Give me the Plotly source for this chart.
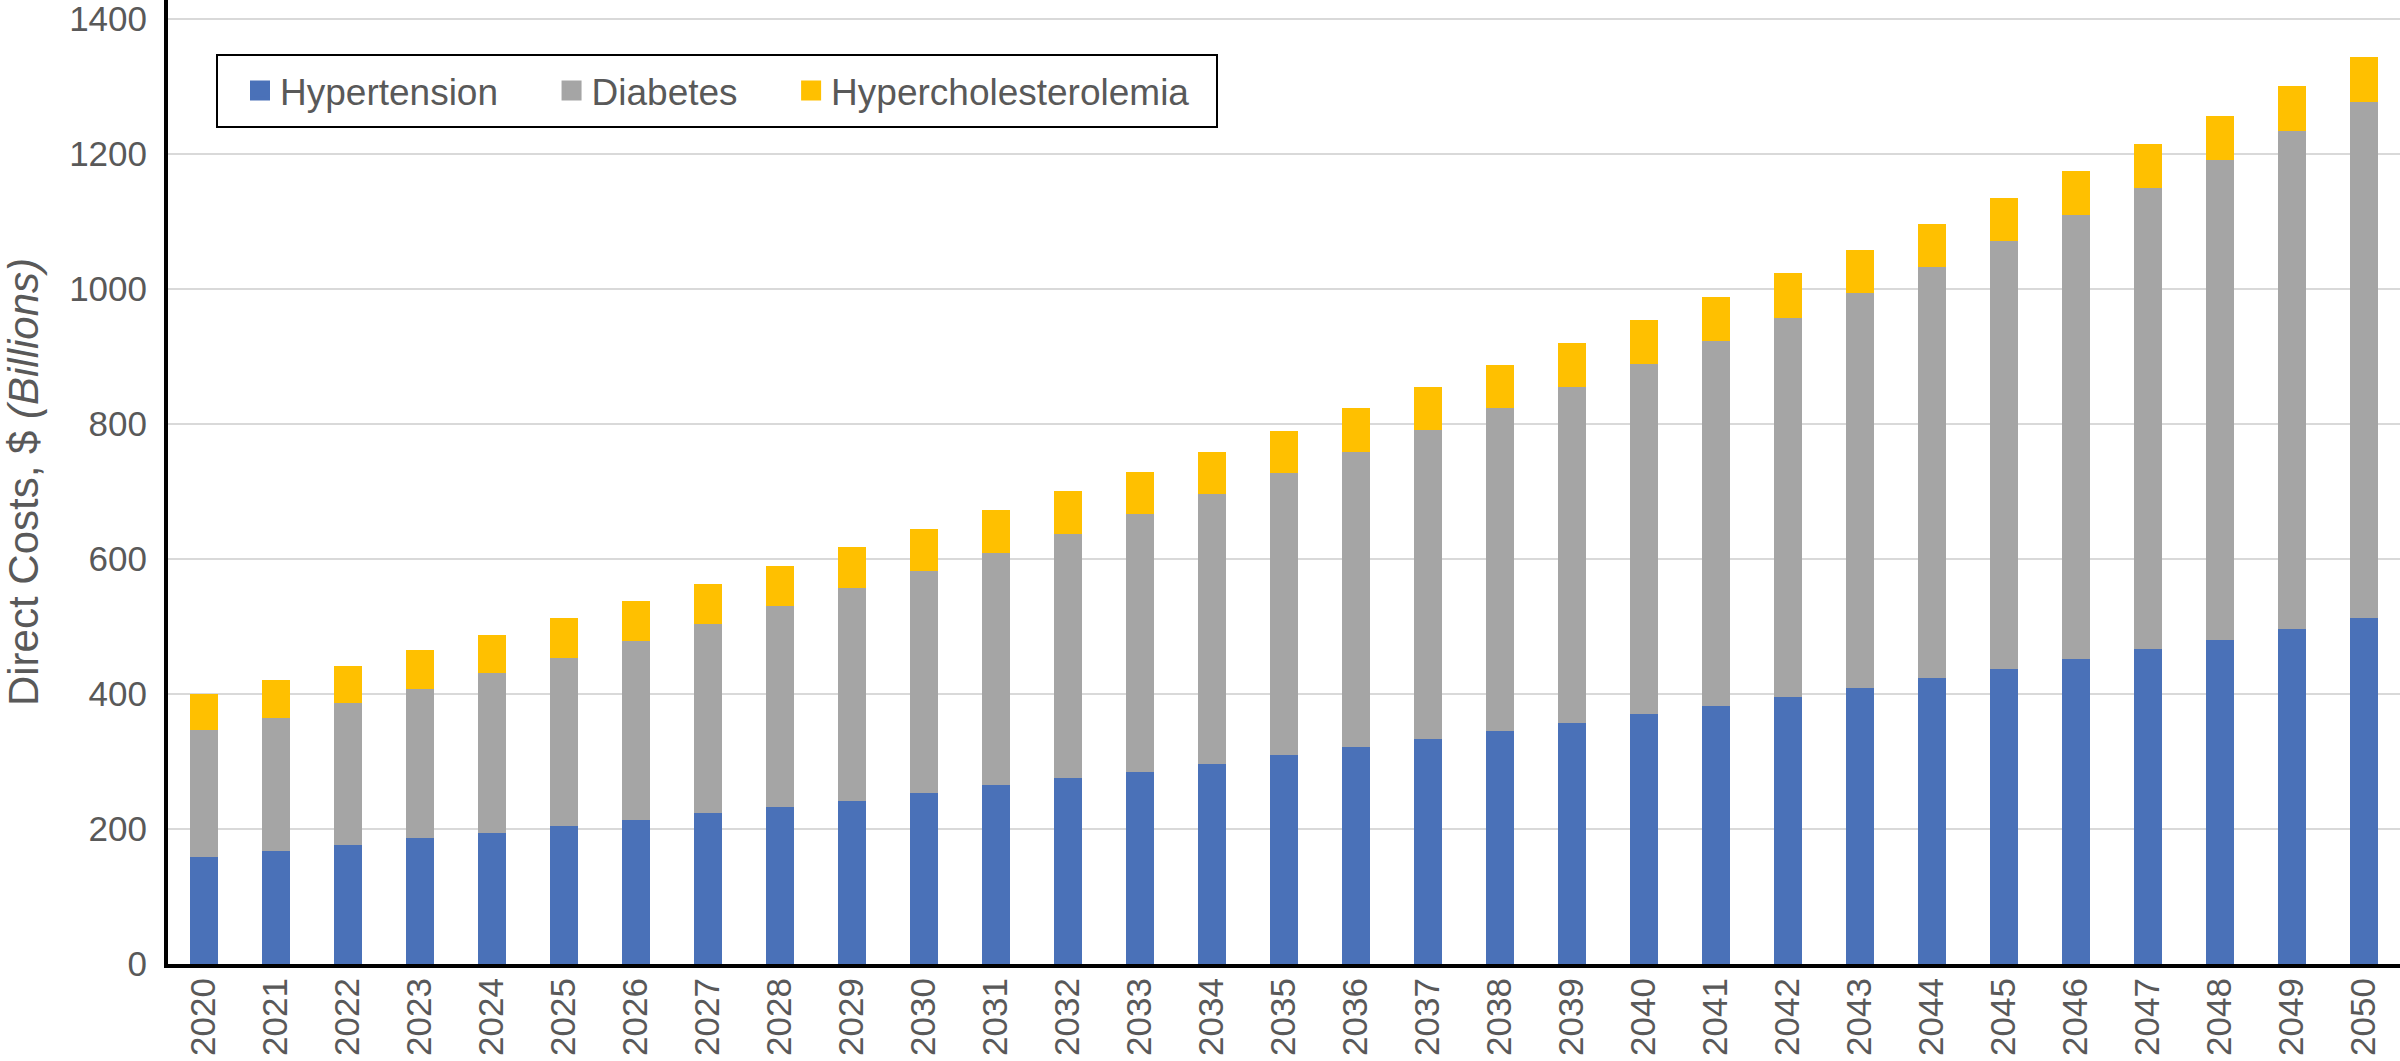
import plotly.graph_objects as go

years = [str(y) for y in range(2020, 2051)]
hypertension = [159, 167, 176, 186, 194, 204, 213, 223, 233, 242, 254, 265, 276, 285, 297,
                309, 322, 333, 345, 357, 370, 382, 395, 409, 423, 437, 452, 467, 480, 496, 513]
diabetes = [187, 198, 210, 222, 237, 250, 265, 281, 297, 315, 328, 344, 361, 381, 399,
            418, 436, 458, 478, 498, 519, 541, 562, 585, 609, 634, 657, 682, 711, 738, 764]
hypercholesterolemia = [54, 56, 56, 57, 57, 59, 59, 59, 59, 60, 62, 63, 63, 63, 62,
                        63, 65, 63, 64, 65, 65, 65, 66, 64, 64, 64, 66, 66, 65, 66, 67]
series_names = ["Hypertension", "Diabetes", "Hypercholesterolemia"]
colors = ["#4A71B8", "#A5A5A5", "#FFC000"]

FONT = "Liberation Sans, Arial, Helvetica, sans-serif"
TXT = "#595959"
W, H = 2400, 1061
ML, MR, MT, MB = 168, 0, 0, 97
PW, PH = W - ML - MR, H - MT - MB

def px_x(p):
    return (p - ML) / PW

def px_y(p):
    return 1 - (p - MT) / PH

fig = go.Figure()
for name, vals, col in zip(series_names, [hypertension, diabetes, hypercholesterolemia], colors):
    fig.add_trace(go.Bar(x=years, y=vals, name=name, marker=dict(color=col, line=dict(width=0)),
                         width=0.4, showlegend=False))
# legend entries (larger square swatches); trailing spaces widen the entry spacing
pads = ["\u00a0" * 4 + "\u2009", "\u00a0" * 4 + "\u2009", "\u00a0" * 4]
for name, col, pad in zip(series_names, colors, pads):
    fig.add_trace(go.Scatter(x=[None], y=[None], mode="markers", name=name + pad,
                             marker=dict(symbol="square", size=16, color=col,
                                         line=dict(color=col, width=4))))

fig.update_layout(
    width=W, height=H,
    margin=dict(l=ML, r=MR, t=MT, b=MB, autoexpand=False),
    barmode="stack",
    plot_bgcolor="white", paper_bgcolor="white",
    font=dict(family=FONT, size=35, color=TXT),
    legend=dict(orientation="h", x=px_x(240), y=px_y(91), xanchor="left", yanchor="middle",
                borderwidth=0, bgcolor="rgba(0,0,0,0)", traceorder="normal",
                font=dict(size=37, color=TXT), itemclick=False),
    shapes=[dict(type="rect", xref="paper", yref="paper",
                 x0=px_x(217), x1=px_x(1217), y0=px_y(127), y1=px_y(55),
                 line=dict(color="black", width=2), fillcolor="white", layer="below")],
    xaxis=dict(type="category", range=[-0.5, 30.5], tickangle=-90, showline=True,
               linecolor="black", linewidth=4, ticks="", showgrid=False, automargin=False,
               tickfont=dict(size=35, color=TXT), ticklabelstandoff=-4),
    yaxis=dict(range=[0, 1428], dtick=200, showline=True, linecolor="black", linewidth=4,
               ticks="", showgrid=True, gridcolor="#D9D9D9", gridwidth=2, automargin=False,
               tickfont=dict(size=35, color=TXT), ticklabelstandoff=10, zeroline=False,
               ticklabeloverflow="allow",
               title=dict(text="Direct Costs, $ <i>(Billions)</i>", standoff=34,
                          font=dict(size=42, color=TXT))),
)

fig.write_html("out.html", config={"displayModeBar": False},
               post_script="document.body.style.margin='0';document.body.style.overflow='hidden';")
